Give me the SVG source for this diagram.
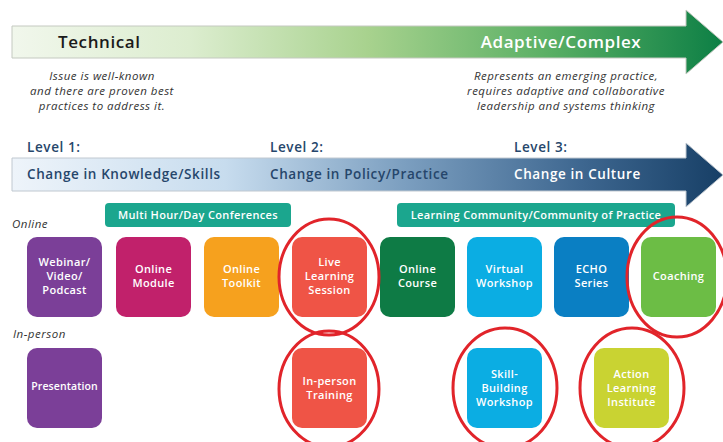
<svg xmlns="http://www.w3.org/2000/svg" width="723" height="442" viewBox="0 0 723 442">
<defs>
<linearGradient id="gGreen" x1="12" y1="0" x2="723" y2="0" gradientUnits="userSpaceOnUse">
<stop offset="0" stop-color="#f1f7ec"/>
<stop offset="0.25" stop-color="#dcedcf"/>
<stop offset="0.5" stop-color="#a8d28e"/>
<stop offset="0.75" stop-color="#5bb065"/>
<stop offset="1" stop-color="#0d7f45"/>
</linearGradient>
<linearGradient id="gBlue" x1="12" y1="0" x2="723" y2="0" gradientUnits="userSpaceOnUse">
<stop offset="0" stop-color="#eef4fa"/>
<stop offset="0.3" stop-color="#c7dcee"/>
<stop offset="0.55" stop-color="#7c9fc0"/>
<stop offset="0.8" stop-color="#3e6790"/>
<stop offset="1" stop-color="#173f66"/>
</linearGradient>
<style>
.hd{font-family:"Open Sans","Liberation Sans",sans-serif;font-weight:600;letter-spacing:0.6px}
.it{font-family:"Open Sans","Liberation Sans",sans-serif;font-style:italic;font-size:11.5px;fill:#333;letter-spacing:0.5px}
.bx{font-family:"Open Sans","Liberation Sans",sans-serif;font-weight:600;font-size:11px;fill:#fff;text-anchor:middle;letter-spacing:0.35px}
.lv{font-size:13.5px;fill:#26466b}
.bar{fill:#1ba68e}
.ring{fill:none;stroke:#e1242a;stroke-width:3}
</style>
</defs>
<rect width="723" height="442" fill="#fff"/>

<g id="arrow-technical">
<path d="M12 26 H686 V10 L723 42 L686 74 V58 H12 Z" fill="url(#gGreen)" stroke="#c4c9c0" stroke-width="1"/>
<text class="hd" x="58" y="48" font-size="17" fill="#1a1a1a">Technical</text>
<text class="hd" x="561" y="48" font-size="17" fill="#fff" text-anchor="middle">Adaptive/Complex</text>
</g>
<g id="desc-technical" text-anchor="middle">
<text class="it" x="102" y="80">Issue is well-known</text>
<text class="it" x="102" y="95">and there are proven best</text>
<text class="it" x="102" y="110">practices to address it.</text>
</g>
<g id="desc-adaptive" text-anchor="middle">
<text class="it" x="566" y="80">Represents an emerging practice,</text>
<text class="it" x="566" y="95">requires adaptive and collaborative</text>
<text class="it" x="566" y="110">leadership and systems thinking</text>
</g>

<g id="arrow-levels">
<path d="M12 158 H686 V143 L723 175 L686 207 V191 H12 Z" fill="url(#gBlue)" stroke="#c0c8d0" stroke-width="1"/>
<text class="hd lv" x="27" y="152">Level 1:</text>
<text class="hd lv" x="270" y="152">Level 2:</text>
<text class="hd lv" x="514" y="152">Level 3:</text>
<text class="hd lv" x="27" y="179">Change in Knowledge/Skills</text>
<text class="hd lv" x="270" y="179">Change in Policy/Practice</text>
<text class="hd lv" x="514" y="179" style="fill:#fff">Change in Culture</text>
</g>

<g id="bar-conferences">
<rect class="bar" x="105" y="203" width="186" height="24" rx="4"/>
<text class="bx" x="198" y="219">Multi Hour/Day Conferences</text>
</g>
<g id="bar-community">
<rect class="bar" x="397" y="203" width="278" height="24" rx="4"/>
<text class="bx" x="536" y="219">Learning Community/Community of Practice</text>
</g>

<text class="it" x="12" y="228">Online</text>
<text class="it" x="13" y="338">In-person</text>

<g id="webinar"><rect x="27" y="237" width="75" height="80" rx="10" fill="#7b3f98"/>
<text class="bx" x="64.5" y="266">Webinar/</text><text class="bx" x="64.5" y="280">Video/</text><text class="bx" x="64.5" y="294">Podcast</text></g>
<g id="online-module"><rect x="116" y="237" width="75" height="80" rx="10" fill="#c1216b"/>
<text class="bx" x="153.5" y="273">Online</text><text class="bx" x="153.5" y="287">Module</text></g>
<g id="online-toolkit"><rect x="204" y="237" width="75" height="80" rx="10" fill="#f6a11e"/>
<text class="bx" x="241.5" y="273">Online</text><text class="bx" x="241.5" y="287">Toolkit</text></g>
<g id="live-learning"><rect x="292" y="237" width="75" height="80" rx="10" fill="#ef5446"/>
<text class="bx" x="329.5" y="266">Live</text><text class="bx" x="329.5" y="280">Learning</text><text class="bx" x="329.5" y="294">Session</text></g>
<g id="online-course"><rect x="380" y="237" width="75" height="80" rx="10" fill="#0e7b45"/>
<text class="bx" x="417.5" y="273">Online</text><text class="bx" x="417.5" y="287">Course</text></g>
<g id="virtual-workshop"><rect x="467" y="237" width="75" height="80" rx="10" fill="#0badE3"/>
<text class="bx" x="504.5" y="273">Virtual</text><text class="bx" x="504.5" y="287">Workshop</text></g>
<g id="echo"><rect x="554" y="237" width="75" height="80" rx="10" fill="#0a7fc3"/>
<text class="bx" x="591.5" y="273">ECHO</text><text class="bx" x="591.5" y="287">Series</text></g>
<g id="coaching"><rect x="641" y="237" width="75" height="80" rx="10" fill="#6cbd45"/>
<text class="bx" x="678.5" y="280">Coaching</text></g>

<g id="presentation"><rect x="27" y="348" width="75" height="80" rx="10" fill="#7b3f98"/>
<text class="bx" x="64.5" y="390" style="font-size:10.5px;letter-spacing:0.1px">Presentation</text></g>
<g id="inperson-training"><rect x="292" y="348" width="75" height="80" rx="10" fill="#ef5446"/>
<text class="bx" x="329.5" y="385">In-person</text><text class="bx" x="329.5" y="399">Training</text></g>
<g id="skill-building"><rect x="467" y="348" width="75" height="80" rx="10" fill="#0badE3"/>
<text class="bx" x="504.5" y="378">Skill-</text><text class="bx" x="504.5" y="392">Building</text><text class="bx" x="504.5" y="406">Workshop</text></g>
<g id="action-learning"><rect x="594" y="348" width="75" height="80" rx="10" fill="#c9d332"/>
<text class="bx" x="631.5" y="378">Action</text><text class="bx" x="631.5" y="392">Learning</text><text class="bx" x="631.5" y="406">Institute</text></g>

<g id="highlights">
<ellipse class="ring" cx="329" cy="277" rx="50" ry="58"/>
<ellipse class="ring" cx="329" cy="389" rx="50" ry="58"/>
<ellipse class="ring" cx="677" cy="277" rx="50" ry="60"/>
<ellipse class="ring" cx="505" cy="388" rx="52" ry="60"/>
<ellipse class="ring" cx="632" cy="388" rx="52" ry="60"/>
</g>
</svg>
